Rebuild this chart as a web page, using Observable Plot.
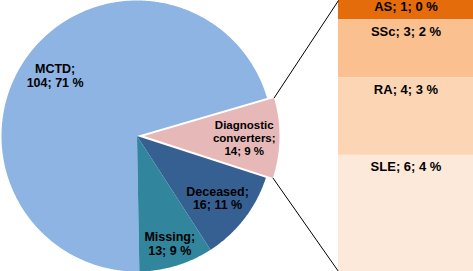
<!DOCTYPE html>
<html><head><meta charset="utf-8">
<script src="https://cdn.jsdelivr.net/npm/d3@7"></script>
<script src="https://cdn.jsdelivr.net/npm/@observablehq/plot@0.6"></script>
<style>
html,body{margin:0;padding:0;background:#fff;}
#chart svg text{font-family:"Liberation Sans",Arial,Helvetica,sans-serif;font-weight:700;}
</style>
</head><body><div id="chart"></div>
<script>
// ---- data ----
const pieCategories = ["MCTD", "Diagnostic converters", "Deceased", "Missing"];
const pieValues = [104, 14, 16, 13];
const piePercents = [71, 9, 11, 9];
const barCategories = ["AS", "SSc", "RA", "SLE"];
const barValues = [1, 3, 4, 6];
const barPercents = [0, 2, 3, 4];

// ---- styles ----
const pieColors = ["#8DB4E2", "#E6B9B8", "#376092", "#31859C"];
const barColors = ["#E46C0A", "#FAC090", "#FCD5B5", "#FDE9D9"];

// ---- layout ----
const W = 473, H = 271;
const CX = 136.5, CY = 135.5, R = 135.5;   // pie centre & radius in px
const START_DEG = -181;                     // clockwise from 12 o'clock
const EXPLODE = 7 / R;
const explodedIndex = 1;
const LABEL_R = [0.75, 0.74, 0.75, 0.83];
const BAR_LEFT_PX = 338;

const rad = d => d * Math.PI / 180;
const total = d3.sum(pieValues);
let acc = START_DEG;
const slices = pieCategories.map((cat, i) => {
  const a0 = acc, a1 = acc + pieValues[i] / total * 360;
  acc = a1;
  const mid = (a0 + a1) / 2;
  const off = i === explodedIndex ? EXPLODE : 0;
  return {cat, i, a0, a1, mid, ox: off * Math.sin(rad(mid)), oy: off * Math.cos(rad(mid)),
          text: `${cat.replace(" ", "\n")};\n${pieValues[i]}; ${piePercents[i]} %`};
});
const piePoints = slices.flatMap(s => {
  const n = Math.max(2, Math.ceil((s.a1 - s.a0) / 0.5));
  const pts = [{cat: s.cat, x: s.ox, y: s.oy}];
  for (let k = 0; k <= n; ++k) {
    const a = rad(s.a0 + (s.a1 - s.a0) * k / n);
    pts.push({cat: s.cat, x: s.ox + Math.sin(a), y: s.oy + Math.cos(a)});
  }
  pts.push({cat: s.cat, x: s.ox, y: s.oy});
  return pts;
});
const labelPos = s => ({
  x: s.ox + LABEL_R[s.i] * Math.sin(rad(s.mid)),
  y: s.oy + LABEL_R[s.i] * Math.cos(rad(s.mid))
});

// bar of pie (units: pie radius = 1)
const barTop = CY / R, barBottom = (CY - H) / R;
const barX0 = (BAR_LEFT_PX - CX) / R, barX1 = (W - CX) / R;
const perCount = (barTop - barBottom) / d3.sum(barValues);
let c = 0;
const bars = barCategories.map((cat, i) => {
  const c0 = c, c1 = c + barValues[i];
  c = c1;
  const y1 = barTop - c0 * perCount, y2 = barTop - c1 * perCount;
  const pad = Math.min(11.8 / R, (y1 - y2) * 0.35);
  return {cat, x1: barX0, x2: barX1, y1, y2, lx: (barX0 + barX1) / 2, ly: y1 - pad,
          text: `${cat}; ${barValues[i]}; ${barPercents[i]} %`};
});

const ex = slices[explodedIndex];
const connectors = [
  {x1: ex.ox + Math.sin(rad(ex.a0)), y1: ex.oy + Math.cos(rad(ex.a0)), x2: barX0, y2: barTop},
  {x1: ex.ox + Math.sin(rad(ex.a1)), y1: ex.oy + Math.cos(rad(ex.a1)), x2: barX0, y2: barBottom}
];

const font = "'Liberation Sans', Arial, Helvetica, sans-serif";
const chart = Plot.plot({
  width: W, height: H, margin: 0,
  x: {domain: [-CX / R, (W - CX) / R], axis: null},
  y: {domain: [(CY - H) / R, CY / R], axis: null},
  color: {domain: [...pieCategories, ...barCategories], range: [...pieColors, ...barColors]},
  style: {fontFamily: font, background: "white", color: "black"},
  marks: [
    Plot.rect(bars, {x1: "x1", x2: "x2", y1: "y1", y2: "y2", fill: "cat"}),
    Plot.line(piePoints, {x: "x", y: "y", z: "cat", fill: "cat", stroke: "none"}),
    Plot.link(connectors, {x1: "x1", y1: "y1", x2: "x2", y2: "y2", stroke: "black", strokeWidth: 1}),
    Plot.text(slices.filter(s => s.i !== explodedIndex), {
      x: s => labelPos(s).x, y: s => labelPos(s).y, text: "text",
      fontSize: 12.5, fontWeight: "bold", lineHeight: 1.07, fill: "black"}),
    Plot.text(slices.filter(s => s.i === explodedIndex), {
      x: s => labelPos(s).x, y: s => labelPos(s).y, text: "text",
      fontSize: 11.5, fontWeight: "bold", lineHeight: 1.16, fill: "black"}),
    Plot.text(bars, {x: "lx", y: "ly", text: "text",
      fontSize: 13, fontWeight: "bold", fill: "black"})
  ]
});
document.getElementById("chart").appendChild(chart);
</script>
</body></html>
